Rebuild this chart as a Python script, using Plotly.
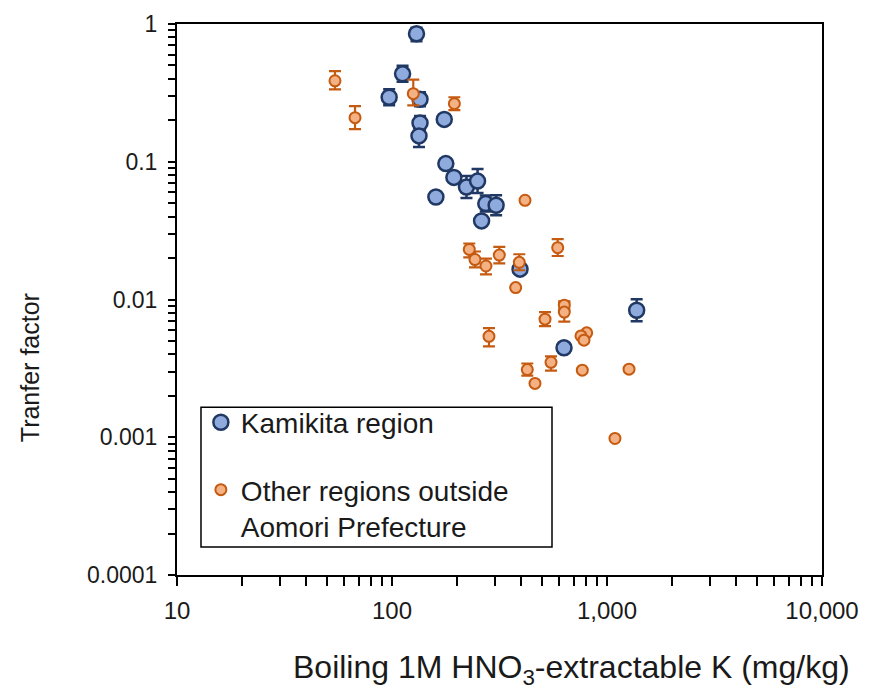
import plotly.graph_objects as go

# ---- Kamikita region (blue) ----
kami_x = [130, 112, 97, 135, 135, 133.5, 175, 178, 194, 222, 250, 160, 273, 305, 261, 394, 631, 1374]
kami_y = [0.85, 0.435, 0.294, 0.284, 0.191, 0.154, 0.203, 0.097, 0.077, 0.0655, 0.0724, 0.0555,
          0.0497, 0.0483, 0.0372, 0.0166, 0.00446, 0.00836]
kami_err_plus = [0.09, 0.062, 0.042, 0.035, 0.024, 0.022, 0.014, 0, 0, 0.0132, 0.0161, 0,
                 0.0071, 0.0088, 0, 0, 0, 0.0017]
kami_err_minus = [0.10, 0.054, 0.037, 0.031, 0.021, 0.026, 0.013, 0, 0, 0.011, 0.0131, 0,
                  0.0062, 0.0074, 0, 0, 0, 0.0014]

# ---- Other regions outside Aomori Prefecture (orange) ----
other_x = [54.3, 67.3, 125.6, 195, 415.6, 228.8, 243.2, 273.5, 315.6, 390.9, 376, 589.8, 633, 633,
           514.9, 282.5, 804.6, 756.8, 781.7, 549, 425.9, 462.4, 767.5, 1266, 1089]
other_y = [0.387, 0.209, 0.312, 0.264, 0.0525, 0.0231, 0.0195, 0.0175, 0.021, 0.0186, 0.0122,
           0.0238, 0.0091, 0.0081, 0.0072, 0.0054, 0.00573, 0.00544, 0.00507, 0.0035, 0.0031,
           0.00246, 0.00307, 0.00312, 0.00098]
other_err_plus = [0.068, 0.044, 0.082, 0.030, 0, 0.0024, 0.0028, 0.0023, 0.0031, 0.0027, 0,
                  0.0036, 0.0006, 0.0015, 0.0009, 0.0008, 0, 0, 0, 0.00037, 0.00033, 0, 0, 0, 0]
other_err_minus = [0.052, 0.0365, 0.055, 0.027, 0, 0.0029, 0.0024, 0.0023, 0.0027, 0.0023, 0,
                   0.0031, 0.0006, 0.0012, 0.0008, 0.00083, 0, 0, 0, 0.00045, 0.0003, 0, 0, 0, 0]

series_names = ["Kamikita region", "Other regions outside<br>Aomori Prefecture"]

x_tick_decades = [10, 100, 1000, 10000]
x_tick_labels = ["10", "100", "1,000", "10,000"]
y_tick_decades = [0.0001, 0.001, 0.01, 0.1, 1]
y_tick_labels = ["0.0001", "0.001", "0.01", "0.1", "1"]

x_title = "Boiling 1M HNO<sub>3</sub>-extractable K (mg/kg)"
y_title = "Tranfer factor"

# tick positions (major + minor log ticks)
def log_ticks(decades, labels):
    vals, texts = [], []
    for i, d in enumerate(decades):
        vals.append(d)
        texts.append(labels[i])
        if i < len(decades) - 1:
            for m in range(2, 10):
                vals.append(d * m)
                texts.append(" ")
    return vals, texts

xv, xt = log_ticks(x_tick_decades, x_tick_labels)
yv, yt = log_ticks(y_tick_decades, y_tick_labels)

fig = go.Figure()
fig.add_trace(go.Scatter(
    x=kami_x, y=kami_y, mode="markers", name=series_names[0], legendgroup="a",
    marker=dict(size=15, color="#8FAADC", line=dict(color="#203864", width=2.5)),
    error_y=dict(type="data", symmetric=False, array=kami_err_plus, arrayminus=kami_err_minus,
                 color="#203864", thickness=2.5, width=6),
))
fig.add_trace(go.Scatter(
    x=other_x, y=other_y, mode="markers", name=series_names[1], legendgroup="b",
    marker=dict(size=11, color="#F4B183", line=dict(color="#C55A11", width=2)),
    error_y=dict(type="data", symmetric=False, array=other_err_plus, arrayminus=other_err_minus,
                 color="#C55A11", thickness=2.2, width=6),
))

axis_common = dict(showline=True, linecolor="black", linewidth=2, mirror=True,
                   ticks="outside", tickcolor="black", tickwidth=1.5, showgrid=False,
                   zeroline=False, automargin=False, tickangle=0)

fig.update_layout(
    width=869, height=695,
    margin=dict(l=177, r=47, t=24, b=120),
    paper_bgcolor="white", plot_bgcolor="white",
    font=dict(family="Liberation Sans, Arial, sans-serif", color="#1a1a1a"),
    xaxis=dict(type="log", range=[1, 4], tickmode="array", tickvals=xv, ticktext=xt,
               ticklen=9, ticklabelstandoff=4, tickfont=dict(size=24), **axis_common),
    yaxis=dict(type="log", range=[-4, 0], tickmode="array", tickvals=yv, ticktext=yt,
               ticklen=7, ticklabelstandoff=6, tickfont=dict(size=23), **axis_common),
    showlegend=True,
    legend=dict(x=0.037, y=0.322, xanchor="left", yanchor="top",
                borderwidth=0, bgcolor="rgba(0,0,0,0)",
                font=dict(size=28, color="#1a1a1a"), valign="top",
                traceorder="grouped", tracegroupgap=28, itemwidth=30),
    shapes=[
        dict(type="rect", xref="paper", yref="paper", x0=0.0372, x1=0.5814, y0=0.0508, y1=0.3046,
             line=dict(color="black", width=1.5), fillcolor="white", layer="above"),
    ],
    annotations=[
        dict(text=x_title, xref="paper", yref="paper", x=0.6124, y=-0.1723,
             showarrow=False, font=dict(size=32), xanchor="center", yanchor="middle"),
        dict(text=y_title, xref="paper", yref="paper", x=-0.228, y=0.377, textangle=-90,
             showarrow=False, font=dict(size=25), xanchor="center", yanchor="middle"),
    ],
)

fig.write_html("out.html", config={"displayModeBar": False},
               post_script="document.body.style.margin='0px';")
